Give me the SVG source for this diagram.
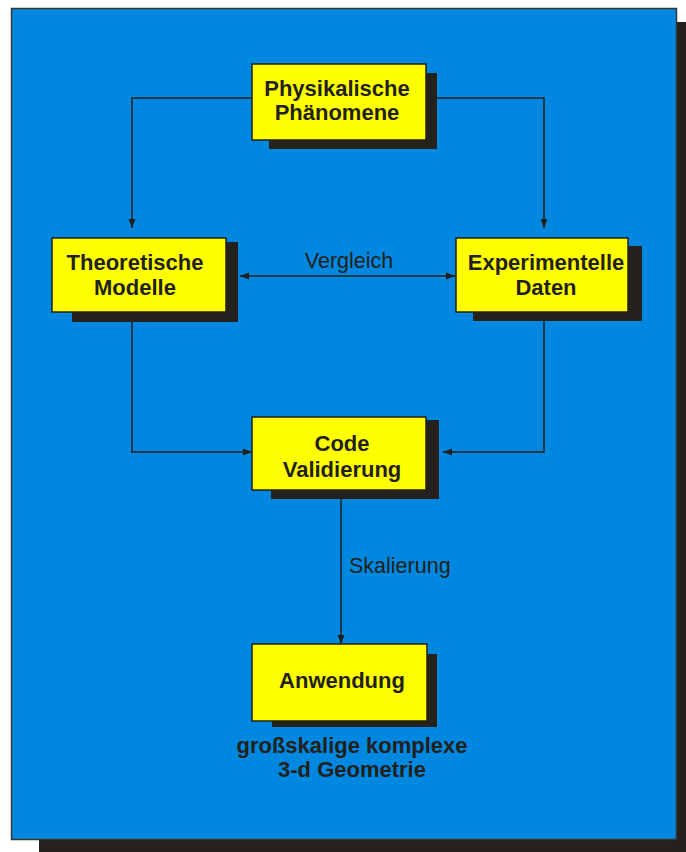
<svg xmlns="http://www.w3.org/2000/svg" width="686" height="852" viewBox="0 0 686 852">
<defs>
<marker id="ah" markerUnits="userSpaceOnUse" markerWidth="10" markerHeight="8" refX="9" refY="4" orient="auto-start-reverse">
<path d="M0,0.5 L9,4 L0,7.5 Z" fill="#231f1a"/>
</marker>
<style>
.shadow{fill:#25221d}
.box{fill:#ffff00;stroke:#231f1a;stroke-width:1.5}
.bt{font-family:"Liberation Sans",Arial,sans-serif;font-weight:bold;font-size:22px;fill:#231f1a;text-anchor:middle}
.lt{font-family:"Liberation Sans",Arial,sans-serif;font-size:21.5px;fill:#231f1a}
.ln{fill:none;stroke:#231f1a;stroke-width:1.5}
</style>
</defs>
<g id="panel">
<rect x="39" y="22" width="647" height="830" class="shadow"/>
<rect x="11.5" y="8.5" width="665" height="831" fill="#0088e0" stroke="#3a3632" stroke-width="1.5"/>
</g>
<g id="connectors">
<path class="ln" d="M252,98 H132 V228" marker-end="url(#ah)"/>
<path class="ln" d="M426,98 H544 V228" marker-end="url(#ah)"/>
<path class="ln" d="M240,276 H455" marker-start="url(#ah)" marker-end="url(#ah)"/>
<path class="ln" d="M132,322 V452 H252" marker-end="url(#ah)"/>
<path class="ln" d="M544,321 V452 H443" marker-end="url(#ah)"/>
<path class="ln" d="M341,499 V644" marker-end="url(#ah)"/>
<text class="lt" x="349" y="268" text-anchor="middle">Vergleich</text>
<text class="lt" x="349" y="573" font-size="22px">Skalierung</text>
</g>
<g id="physikalische">
<rect class="shadow" x="269" y="73" width="168" height="76"/>
<rect class="box" x="252" y="64" width="174" height="76"/>
<text class="bt" x="337" y="95.5" font-size="21.5px">Physikalische</text>
<text class="bt" x="337" y="120" font-size="21.5px">Phänomene</text>
</g>
<g id="theoretische">
<rect class="shadow" x="72" y="242" width="166" height="80"/>
<rect class="box" x="52" y="238" width="174" height="74"/>
<text class="bt" x="135" y="270">Theoretische</text>
<text class="bt" x="135" y="295">Modelle</text>
</g>
<g id="experimentelle">
<rect class="shadow" x="473" y="246" width="169" height="75"/>
<rect class="box" x="456" y="238" width="172" height="74"/>
<text class="bt" x="546" y="270">Experimentelle</text>
<text class="bt" x="546" y="295">Daten</text>
</g>
<g id="code">
<rect class="shadow" x="271" y="420" width="168" height="79"/>
<rect class="box" x="252" y="417" width="174" height="73"/>
<text class="bt" x="342" y="450.5">Code</text>
<text class="bt" x="342" y="477">Validierung</text>
</g>
<g id="anwendung">
<rect class="shadow" x="272" y="654" width="165" height="73"/>
<rect class="box" x="252" y="644" width="175" height="77"/>
<text class="bt" x="342" y="688">Anwendung</text>
</g>
<g id="caption">
<text class="bt" x="352" y="753" font-size="21px">großskalige komplexe</text>
<text class="bt" x="352" y="777" font-size="21px">3-d Geometrie</text>
</g>
</svg>
